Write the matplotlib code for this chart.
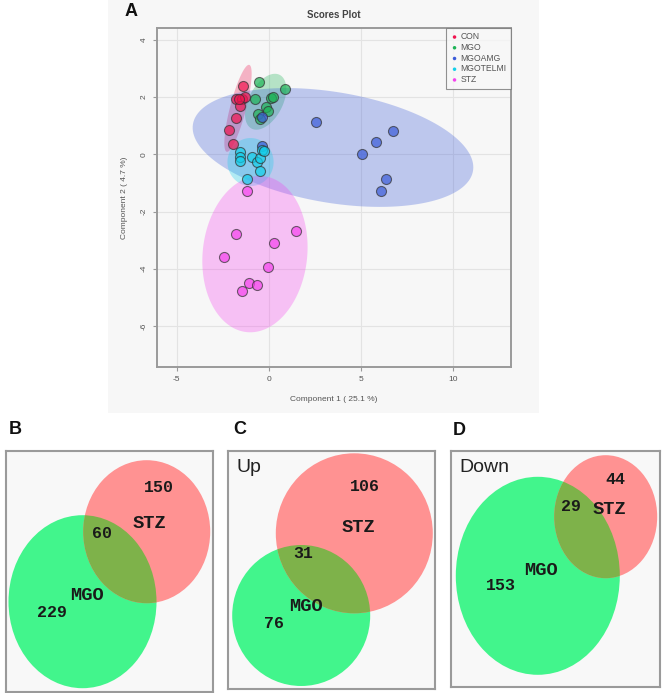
import numpy as np
import matplotlib
matplotlib.use('Agg')
import matplotlib.pyplot as plt
from matplotlib.patches import Ellipse, Rectangle, Polygon

W, H = 666, 693

# scores plot data (component 1, component 2)
groups = ['CON', 'MGO', 'MGOAMG', 'MGOTELMI', 'STZ']
colors = ['#F0144F', '#1DB356', '#3A5BD9', '#12CFEA', '#F542EE']

con_x = [-1.39, -1.79, -1.48, -1.30, -1.57, -1.79, -2.18, -1.93, -1.62]
con_y = [2.40, 1.92, 1.92, 2.01, 1.69, 1.26, 0.86, 0.37, 1.95]
mgo_x = [-0.54, 0.87, -0.74, 0.09, 0.24, -0.18, -0.07, -0.58, -0.49]
mgo_y = [2.54, 2.28, 1.92, 1.96, 1.99, 1.66, 1.52, 1.41, 1.25]
amg_x = [-0.36, -0.36, 2.55, 6.70, 5.80, 5.06, 6.32, 6.05]
amg_y = [1.31, 0.30, 1.12, 0.81, 0.44, 0.00, -0.85, -1.27]
telmi_x = [-1.57, -1.57, -1.57, -0.94, -0.67, -0.49, -0.36, -0.27, -0.49, -1.21]
telmi_y = [0.09, -0.08, -0.22, -0.10, -0.28, -0.14, 0.15, 0.12, -0.57, -0.85]
stz_x = [-1.21, -1.80, 1.46, 0.29, -2.42, -0.04, -1.10, -0.67, -1.45]
stz_y = [-1.28, -2.80, -2.67, -3.11, -3.58, -3.95, -4.49, -4.57, -4.79]

xs = [con_x, mgo_x, amg_x, telmi_x, stz_x]
ys = [con_y, mgo_y, amg_y, telmi_y, stz_y]

# 95% regions: centre and two conjugate half axes
ell_center = [(-1.68, 1.61), (-0.18, 1.84), (3.47, 0.24), (-1.0, -0.27), (-0.76, -3.49)]
ell_u = [(0.61, 1.52), (0.76, 0.94), (7.59, -0.82), (1.25, 0.0), (0.43, 2.73)]
ell_v = [(0.42, -0.07), (0.82, -0.27), (-0.50, -1.91), (0.0, 0.84), (2.82, -0.17)]

# venn counts: MGO only, both, STZ only
venn_b = [229, 60, 150]
venn_c = [76, 31, 106]
venn_d = [153, 29, 44]

plt.rcParams['font.family'] = ['Liberation Sans', 'DejaVu Sans']
plt.rcParams['axes.unicode_minus'] = False

def frac(x0, y0, x1, y1):
    return [x0 / W, 1 - y1 / H, (x1 - x0) / W, (y1 - y0) / H]

fig = plt.figure(figsize=(W / 100, H / 100), dpi=100)

# grey background behind the scores plot
fig.patches.append(Rectangle((108 / W, 1 - 413 / H), (539 - 108) / W, 413 / H,
                             transform=fig.transFigure, facecolor='#F7F7F7',
                             edgecolor='none', zorder=-5))

ax = fig.add_axes(frac(157, 28, 511, 367))
ax.set_facecolor('#F7F7F7')
ax.set_xlim(-6.07, 13.12)
ax.set_ylim(-7.44, 4.42)
ax.set_xticks([-5, 0, 5, 10])
ax.set_yticks([-6, -4, -2, 0, 2, 4])
ax.grid(True, color='#E3E3E3', linewidth=0.8)
ax.set_axisbelow(True)
for s in ax.spines.values():
    s.set_color('#9A9A9A')
    s.set_linewidth(1.4)
ax.tick_params(colors='#9A9A9A', labelcolor='#555555', labelsize=6, length=3, width=0.8)
for lab in ax.get_yticklabels():
    lab.set_rotation(90)
    lab.set_va('center')

t = np.linspace(0, 2 * np.pi, 200)
for i in range(len(groups)):
    cx, cy = ell_center[i]
    ux, uy = ell_u[i]
    vx, vy = ell_v[i]
    px = cx + ux * np.cos(t) + vx * np.sin(t)
    py = cy + uy * np.cos(t) + vy * np.sin(t)
    ax.add_patch(Polygon(np.column_stack([px, py]), closed=True,
                         facecolor=colors[i], alpha=0.3, edgecolor='none', zorder=1))

for i in range(len(groups)):
    ax.scatter(xs[i], ys[i], s=52, facecolor=colors[i], alpha=0.7,
               edgecolor='#333333', linewidth=0.8, zorder=3, label=groups[i])

leg = ax.legend(loc='upper right', bbox_to_anchor=(1, 1), borderaxespad=0,
                fontsize=6.2, frameon=True, fancybox=False, handletextpad=0.2,
                markerscale=0.35, labelspacing=0.2, borderpad=0.5,
                handlelength=1.0, labelcolor='#555555')
leg.get_frame().set_edgecolor('#777777')
leg.get_frame().set_linewidth(0.8)
leg.get_frame().set_facecolor('#F7F7F7')
for h in leg.legend_handles:
    h.set_alpha(1)
    h.set_edgecolor('none')

ax.set_title('Scores Plot', fontsize=7, fontweight='bold', color='#444444', pad=7)
ax.set_xlabel('Component 1 ( 25.1 %)', fontsize=6, color='#555555', labelpad=9)
ax.set_ylabel('Component 2 ( 4.7 %)', fontsize=6, color='#555555', labelpad=9)


def venn(box, counts, tag, shapes, spots):
    x0, y0, x1, y1 = box
    v = fig.add_axes(frac(x0, y0, x1, y1))
    v.set_xlim(0, x1 - x0)
    v.set_ylim(y1 - y0, 0)
    v.set_xticks([])
    v.set_yticks([])
    v.set_facecolor('#F8F8F8')
    for s in v.spines.values():
        s.set_color('#9A9A9A')
        s.set_linewidth(1.5)
    (gc, gw, gh), (rc, rw, rh) = shapes
    green = Ellipse(gc, gw, gh, facecolor='#42F58C', edgecolor='none')
    red = Ellipse(rc, rw, rh, facecolor='#FF9292', edgecolor='none')
    both = Ellipse(rc, rw, rh, facecolor='#7EB24A', edgecolor='none')
    v.add_patch(green)
    v.add_patch(red)
    v.add_patch(both)
    both.set_clip_path(green)
    mono = dict(family='Liberation Mono', fontweight='bold',
                color='#1A1A1A', ha='center', va='center')
    labels = [str(counts[0]), str(counts[1]), str(counts[2]), 'MGO', 'STZ']
    sizes = [12, 12, 12, 13.5, 13.5]
    for lab, sz, (x, y) in zip(labels, sizes, spots):
        v.text(x, y, lab, fontsize=sz, **mono)
    if tag:
        v.text(8, 16, tag, fontsize=14, color='#222222', ha='left', va='center')


venn((6, 451, 213, 692), venn_b, '',
     [((76.5, 150.7), 148, 173), ((140.7, 80.7), 127, 143)],
     [(45.7, 161.3), (95.7, 82.3), (153.3, 36.3), (81.3, 144.7), (143.3, 72.3)])
venn((228, 451, 435, 689), venn_c, 'Up',
     [((73.2, 164.5), 138, 141), ((126.3, 82.3), 157, 160)],
     [(45.7, 172.3), (75.7, 103), (137.3, 35.7), (78, 155.7), (130, 76.3)])
venn((451, 451, 660, 687), venn_d, 'Down',
     [((86.8, 124.8), 164, 198), ((154.7, 65.7), 103, 123)],
     [(50.3, 134), (119.7, 55.7), (164.7, 29), (90.3, 119.7), (158.7, 59)])

for letter, x, y in [('A', 131, 11), ('B', 15, 429), ('C', 240, 429), ('D', 459, 430)]:
    fig.text(x / W, 1 - y / H, letter, fontsize=13, fontweight='bold',
             ha='center', va='center', color='#111111')

fig.savefig('out.png', dpi=100)
